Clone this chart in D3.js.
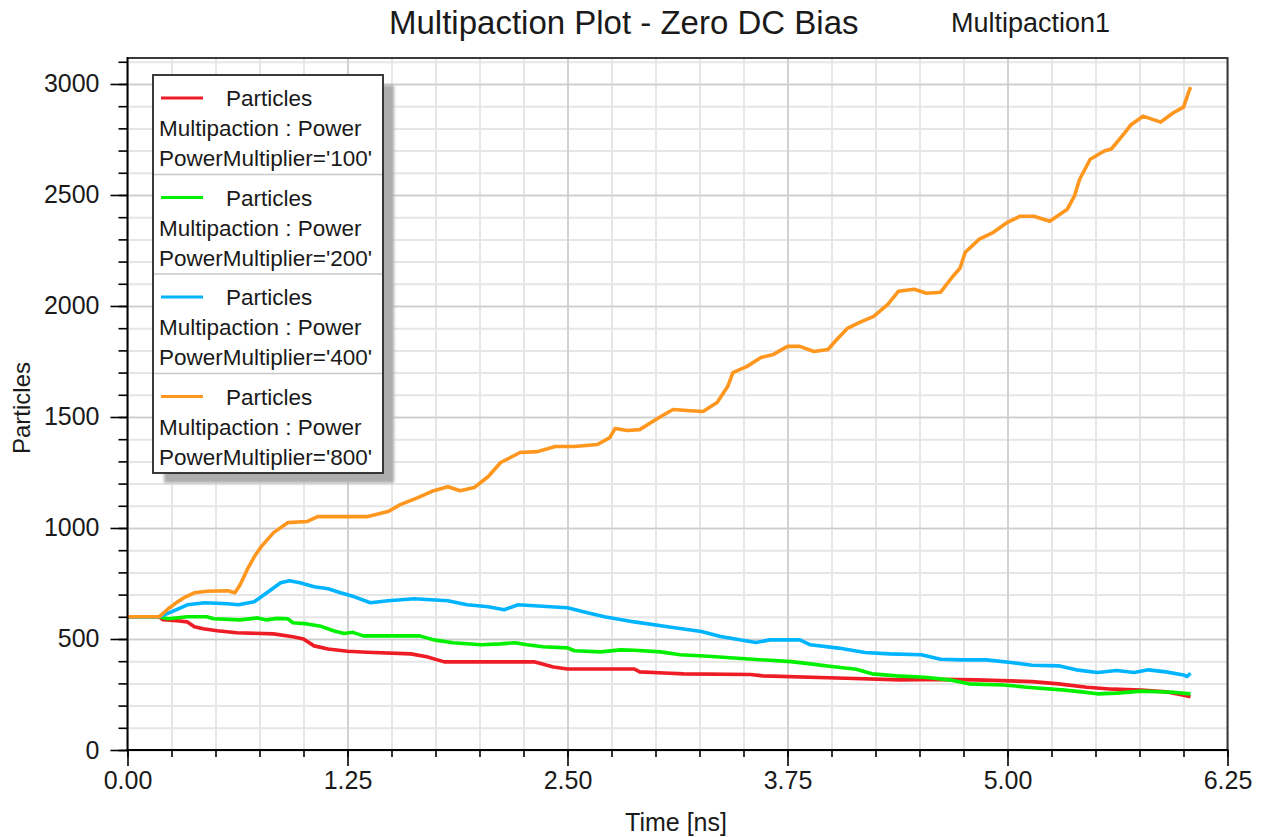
<!DOCTYPE html>
<html>
<head>
<meta charset="utf-8">
<script src="https://cdn.jsdelivr.net/npm/d3@7"></script>
<style>
  html, body { margin: 0; padding: 0; background: #fff; }
  svg { display: block; font-family: "Liberation Sans", Arial, sans-serif; }
</style>
</head>
<body>
<svg id="chart" width="1269" height="837"></svg>
<script>
// Particle count vs. time, four PowerMultiplier runs (time in ns)
const timeP100 = [0, 0.18, 0.20, 0.28, 0.34, 0.38, 0.43, 0.51, 0.62, 0.83, 0.94, 1.00, 1.06, 1.14, 1.25, 1.36, 1.61, 1.70, 1.80, 2.31, 2.42, 2.50, 2.88, 2.91, 3.05, 3.16, 3.54, 3.61, 4.08, 4.39, 4.62, 4.82, 5.14, 5.29, 5.45, 5.60, 5.76, 5.90, 5.98, 6.04];
const particlesP100 = [600, 600, 587, 582, 577, 555, 546, 537, 528, 523, 510, 500, 469, 455, 445, 440, 433, 420, 397, 397, 374, 365, 365, 352, 347, 343, 340, 334, 323, 316, 318, 316, 308, 298, 283, 274, 270, 262, 250, 240];

const timeP200 = [0, 0.18, 0.23, 0.34, 0.45, 0.49, 0.64, 0.74, 0.79, 0.85, 0.91, 0.94, 1.02, 1.10, 1.17, 1.23, 1.28, 1.34, 1.66, 1.74, 1.85, 2.01, 2.12, 2.20, 2.27, 2.36, 2.50, 2.54, 2.69, 2.80, 2.88, 3.03, 3.14, 3.30, 3.55, 3.77, 3.88, 4.00, 4.14, 4.23, 4.37, 4.53, 4.67, 4.78, 4.98, 5.11, 5.31, 5.41, 5.51, 5.62, 5.76, 5.94, 6.04];
const particlesP200 = [600, 600, 591, 600, 600, 591, 586, 595, 586, 593, 591, 573, 568, 557, 537, 525, 530, 514, 514, 496, 483, 474, 478, 483, 474, 465, 460, 447, 442, 451, 449, 442, 429, 422, 409, 398, 388, 376, 364, 343, 334, 328, 316, 298, 293, 283, 271, 263, 253, 256, 265, 260, 253];

const timeP400 = [0, 0.18, 0.25, 0.34, 0.44, 0.57, 0.63, 0.72, 0.80, 0.87, 0.92, 0.98, 1.06, 1.14, 1.21, 1.29, 1.38, 1.48, 1.63, 1.82, 1.93, 2.05, 2.14, 2.22, 2.31, 2.50, 2.59, 2.71, 2.88, 3.07, 3.26, 3.37, 3.57, 3.65, 3.82, 3.88, 4.04, 4.19, 4.33, 4.51, 4.62, 4.74, 4.88, 5.02, 5.14, 5.29, 5.39, 5.51, 5.62, 5.72, 5.80, 5.90, 6.00, 6.02, 6.04];
const particlesP400 = [600, 600, 622, 654, 663, 659, 654, 668, 713, 753, 762, 753, 735, 726, 708, 690, 663, 672, 681, 672, 654, 645, 632, 654, 650, 641, 623, 600, 577, 555, 534, 511, 484, 496, 496, 474, 459, 439, 433, 429, 409, 406, 406, 394, 382, 379, 361, 349, 358, 349, 361, 352, 338, 331, 346];

const timeP800 = [0, 0.18, 0.23, 0.28, 0.33, 0.38, 0.45, 0.57, 0.61, 0.64, 0.68, 0.72, 0.76, 0.83, 0.91, 1.02, 1.08, 1.25, 1.36, 1.48, 1.55, 1.65, 1.74, 1.82, 1.89, 1.97, 2.05, 2.12, 2.23, 2.33, 2.43, 2.54, 2.67, 2.74, 2.77, 2.84, 2.91, 3.03, 3.10, 3.18, 3.27, 3.35, 3.41, 3.44, 3.52, 3.60, 3.67, 3.75, 3.82, 3.90, 3.98, 4.03, 4.09, 4.16, 4.24, 4.32, 4.38, 4.47, 4.54, 4.62, 4.69, 4.73, 4.76, 4.84, 4.92, 5.00, 5.07, 5.15, 5.24, 5.34, 5.38, 5.41, 5.47, 5.55, 5.59, 5.66, 5.70, 5.77, 5.87, 5.94, 6.00, 6.03, 6.04];
const particlesP800 = [600, 600, 635, 665, 690, 708, 715, 717, 708, 744, 812, 870, 916, 979, 1024, 1029, 1051, 1051, 1051, 1074, 1105, 1137, 1168, 1186, 1168, 1182, 1232, 1295, 1340, 1344, 1367, 1367, 1376, 1407, 1448, 1439, 1443, 1502, 1534, 1529, 1525, 1565, 1637, 1700, 1728, 1768, 1782, 1818, 1818, 1795, 1804, 1849, 1899, 1926, 1953, 2007, 2066, 2075, 2057, 2062, 2134, 2170, 2242, 2301, 2332, 2377, 2404, 2404, 2382, 2436, 2495, 2571, 2661, 2698, 2707, 2774, 2815, 2855, 2828, 2869, 2896, 2964, 2986];

const multipliers = ["100", "200", "400", "800"];
const seriesColors = ["#ee1c25", "#00f000", "#00b4ff", "#ff961e"];

const xMajorTicks = [0, 1.25, 2.5, 3.75, 5, 6.25];
const xTickLabels = ["0.00", "1.25", "2.50", "3.75", "5.00", "6.25"];
const yMajorTicks = [0, 500, 1000, 1500, 2000, 2500, 3000];

const titleText = "Multipaction Plot - Zero DC Bias";
const subtitleText = "Multipaction1";
const xAxisTitle = "Time [ns]";
const yAxisTitle = "Particles";

const seriesList = [
  { t: timeP100, v: particlesP100 },
  { t: timeP200, v: particlesP200 },
  { t: timeP400, v: particlesP400 },
  { t: timeP800, v: particlesP800 }
].map((s, i) => ({ ...s, key: multipliers[i], color: seriesColors[i] }));

const svg = d3.select("#chart");
const plot = { left: 127.5, right: 1227.5, top: 58, bottom: 750 };

const x = d3.scaleLinear().domain([0, 6.25]).range([plot.left, plot.right]);
const y = d3.scaleLinear().domain([0, 3117]).range([plot.bottom, plot.top]);

const xMinor = d3.range(0, 6.2501, 0.25);
const yMinor = d3.range(0, 3101, 100);

// grid: light minor lines, then darker majors
const grid = svg.append("g");
grid.append("g")
  .attr("transform", `translate(0,${plot.bottom})`)
  .call(d3.axisBottom(x).tickValues(xMinor).tickSize(-(plot.bottom - plot.top)).tickFormat(""))
  .call(g => g.select(".domain").remove())
  .call(g => g.selectAll("line").attr("stroke", "#e6e6e6").attr("stroke-width", 2));
grid.append("g")
  .attr("transform", `translate(${plot.left},0)`)
  .call(d3.axisLeft(y).tickValues(yMinor).tickSize(-(plot.right - plot.left)).tickFormat(""))
  .call(g => g.select(".domain").remove())
  .call(g => g.selectAll("line").attr("stroke", "#e6e6e6").attr("stroke-width", 2));
grid.append("g")
  .attr("transform", `translate(0,${plot.bottom})`)
  .call(d3.axisBottom(x).tickValues(xMajorTicks).tickSize(-(plot.bottom - plot.top)).tickFormat(""))
  .call(g => g.select(".domain").remove())
  .call(g => g.selectAll("line").attr("stroke", "#cdcdcd").attr("stroke-width", 1.6));
grid.append("g")
  .attr("transform", `translate(${plot.left},0)`)
  .call(d3.axisLeft(y).tickValues(yMajorTicks).tickSize(-(plot.right - plot.left)).tickFormat(""))
  .call(g => g.select(".domain").remove())
  .call(g => g.selectAll("line").attr("stroke", "#cdcdcd").attr("stroke-width", 1.6));

// data lines
const line = d3.line().x((d) => x(d[0])).y((d) => y(d[1]));
svg.append("g")
  .selectAll("path")
  .data(seriesList)
  .join("path")
  .attr("d", (s) => line(s.t.map((t, i) => [t, s.v[i]])))
  .attr("fill", "none")
  .attr("stroke", (s) => s.color)
  .attr("stroke-width", 3.6)
  .attr("stroke-linejoin", "round");

// frame on top/right
svg.append("path")
  .attr("d", `M${plot.left},${plot.top}H${plot.right}V${plot.bottom}`)
  .attr("fill", "none")
  .attr("stroke", "#3a3a3a")
  .attr("stroke-width", 2);

// axes
const tickFont = 25;
svg.append("g").attr("transform", `translate(0,${plot.bottom})`)
  .call(d3.axisBottom(x).tickValues(xMinor).tickSize(7).tickFormat(""))
  .call(g => g.select(".domain").remove())
  .call(g => g.selectAll("line").attr("stroke", "#000").attr("stroke-width", 1.6));
const xMaj = svg.append("g").attr("transform", `translate(0,${plot.bottom})`)
  .call(d3.axisBottom(x).tickValues(xMajorTicks).tickSize(16).tickPadding(5)
    .tickFormat((d, i) => xTickLabels[i]));
xMaj.select(".domain").remove();
xMaj.selectAll("line").attr("stroke", "#000").attr("stroke-width", 1.6);
xMaj.selectAll("text").attr("font-size", tickFont).attr("fill", "#1a1a1a")
  .attr("font-family", "Liberation Sans, Arial, sans-serif");

svg.append("g").attr("transform", `translate(${plot.left},0)`)
  .call(d3.axisLeft(y).tickValues(yMinor).tickSize(9).tickFormat(""))
  .call(g => g.select(".domain").remove())
  .call(g => g.selectAll("line").attr("stroke", "#000").attr("stroke-width", 1.6));
const yMaj = svg.append("g").attr("transform", `translate(${plot.left},0)`)
  .call(d3.axisLeft(y).tickValues(yMajorTicks).tickSize(17).tickPadding(11).tickFormat(d3.format("d")));
yMaj.select(".domain").remove();
yMaj.selectAll("line").attr("stroke", "#000").attr("stroke-width", 1.6);
yMaj.selectAll("text").attr("font-size", tickFont).attr("fill", "#1a1a1a")
  .attr("font-family", "Liberation Sans, Arial, sans-serif");

// axis lines
svg.append("line").attr("x1", plot.left).attr("x2", plot.left)
  .attr("y1", plot.top - 1).attr("y2", plot.bottom + 1)
  .attr("stroke", "#000").attr("stroke-width", 2);
svg.append("line").attr("x1", plot.left - 1).attr("x2", plot.right + 1)
  .attr("y1", plot.bottom).attr("y2", plot.bottom)
  .attr("stroke", "#000").attr("stroke-width", 2);

// titles
svg.append("text").attr("x", 389).attr("y", 34).attr("font-size", 33)
  .attr("fill", "#1a1a1a").text(titleText);
svg.append("text").attr("x", 951).attr("y", 32).attr("font-size", 27)
  .attr("fill", "#1a1a1a").text(subtitleText);
svg.append("text").attr("x", 676).attr("y", 831).attr("text-anchor", "middle")
  .attr("font-size", 25).attr("fill", "#1a1a1a").text(xAxisTitle);
svg.append("text").attr("transform", "translate(30,408) rotate(-90)")
  .attr("text-anchor", "middle").attr("font-size", 24).attr("fill", "#1a1a1a").text(yAxisTitle);

// legend with drop shadow
const defs = svg.append("defs");
defs.append("filter").attr("id", "soft").attr("x", "-10%").attr("y", "-10%")
  .attr("width", "120%").attr("height", "120%")
  .append("feGaussianBlur").attr("stdDeviation", 1.6);

const lg = { x: 153, y: 75, w: 230, h: 398 };
const entryH = lg.h / seriesList.length;
svg.append("rect").attr("x", lg.x + 11).attr("y", lg.y + 10)
  .attr("width", lg.w).attr("height", lg.h)
  .attr("fill", "#adadad").attr("filter", "url(#soft)");
svg.append("rect").attr("x", lg.x).attr("y", lg.y)
  .attr("width", lg.w).attr("height", lg.h)
  .attr("fill", "#fff").attr("stroke", "#262626").attr("stroke-width", 1.8);

const entries = svg.append("g").selectAll("g")
  .data(seriesList)
  .join("g")
  .attr("transform", (d, i) => `translate(${lg.x},${lg.y + i * entryH})`);
entries.filter((d, i) => i > 0).append("line")
  .attr("x1", 1).attr("x2", lg.w - 1).attr("y1", 0).attr("y2", 0)
  .attr("stroke", "#c8c8c8").attr("stroke-width", 1.6);
entries.append("line")
  .attr("x1", 8).attr("x2", 50).attr("y1", 23).attr("y2", 23)
  .attr("stroke", (d) => d.color).attr("stroke-width", 3);
entries.append("text").attr("x", 73).attr("y", 31)
  .attr("font-size", 22.5).attr("fill", "#1a1a1a").text("Particles");
entries.append("text").attr("x", 6).attr("y", 61)
  .attr("font-size", 22.5).attr("fill", "#1a1a1a").text("Multipaction : Power");
entries.append("text").attr("x", 6).attr("y", 91)
  .attr("font-size", 22.5).attr("fill", "#1a1a1a").text((d) => `PowerMultiplier='${d.key}'`);
</script>
</body>
</html>
